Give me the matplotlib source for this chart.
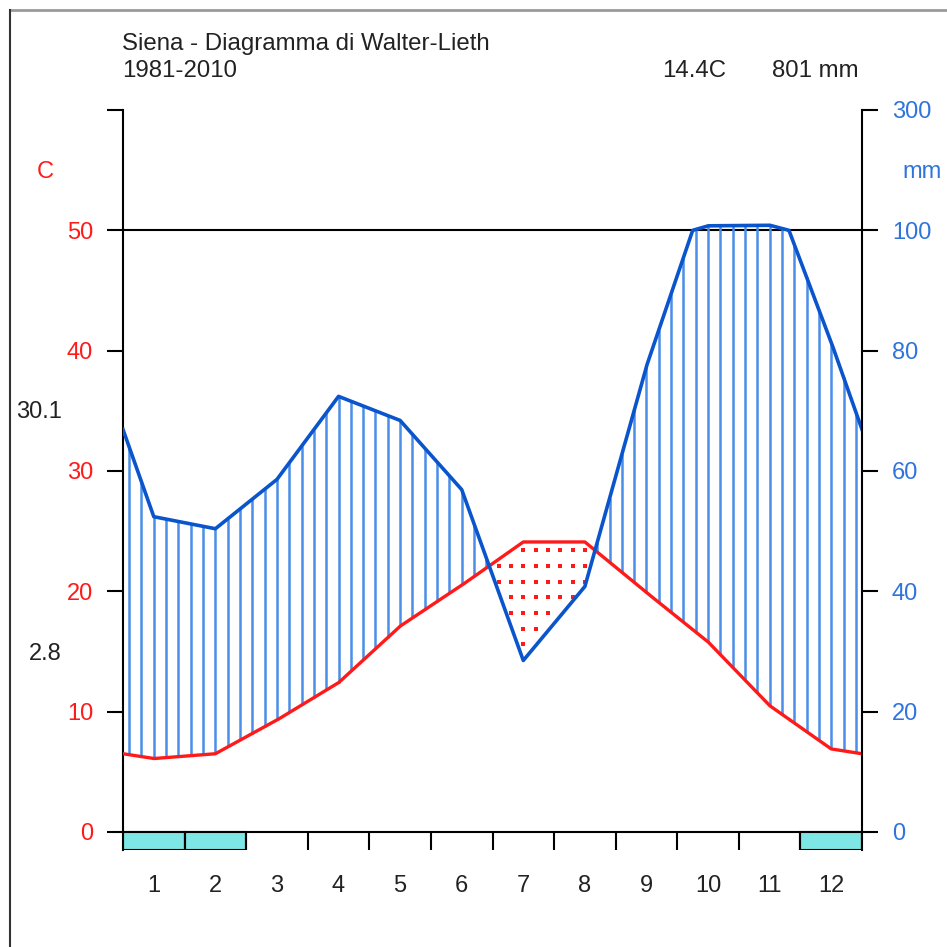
import numpy as np
import matplotlib
matplotlib.use("Agg")
import matplotlib.pyplot as plt
from matplotlib.lines import Line2D

plt.rcParams['font.family'] = ['Liberation Sans', 'DejaVu Sans']

# Siena 1981-2010, monthly means
months = list(range(1, 13))
temp = [6.1, 6.5, 9.3, 12.4, 17.1, 20.5, 24.1, 24.1, 19.9, 15.8, 10.5, 6.9]
precip = [52.4, 50.4, 58.6, 72.4, 68.4, 56.9, 28.5, 40.8, 77.4, 107.5, 108.5, 81.4]
frost_months = [1, 2, 12]
mm_ticks = [0, 20, 40, 60, 80, 100, 300]
c_ticks = [0, 10, 20, 30, 40, 50, 60]

RED = '#ff1a1a'
BLUE = '#0b55cc'
HATCH = '#4a8ee8'
BLUE_TXT = '#2f74dc'
TXT = '#222222'


def mm_to_c(p):
    # 2 mm per degree up to 100 mm, 20 mm per degree above
    p = np.asarray(p, dtype=float)
    return np.where(p <= 100, p / 2.0, 50 + (p - 100) / 20.0)


W = 947
fig = plt.figure(figsize=(9.47, 9.47), dpi=100)
ax = fig.add_axes([123 / W, (W - 850) / W, (862 - 123) / W, (850 - 110) / W])
ax.set_xlim(0, 12)
ax.set_ylim(-1.5, 60)

# month centres plus edge values (mean of Dec and Jan)
x_pts = np.concatenate([[0], np.arange(12) + 0.5, [12]])
t_edge = (temp[0] + temp[-1]) / 2
p_edge = (precip[0] + precip[-1]) / 2
t_pts = np.concatenate([[t_edge], temp, [t_edge]])
p_pts = np.concatenate([[p_edge], precip, [p_edge]])

xf = np.linspace(0, 12, 2401)
tf = np.interp(xf, x_pts, t_pts)
pf = mm_to_c(np.interp(xf, x_pts, p_pts))

# humid period: vertical hatching
xh = 0.1 + 0.2 * np.arange(60)
th = np.interp(xh, x_pts, t_pts)
ph = mm_to_c(np.interp(xh, x_pts, p_pts))
wet = ph > th
ax.vlines(xh[wet], th[wet], ph[wet], color=HATCH, lw=1.8, zorder=2)

# arid period: red dots
dx = 0.1 + 0.2 * np.arange(60)
dy = 23.4 - 1.3 * np.arange(18)
gx, gy = np.meshgrid(dx, dy)
gx, gy = gx.ravel(), gy.ravel()
gt = np.interp(gx, x_pts, t_pts)
gp = mm_to_c(np.interp(gx, x_pts, p_pts))
keep = (gy < gt - 0.3) & (gy > gp + 0.3)
ax.scatter(gx[keep], gy[keep], s=10, marker='s', color=RED, linewidths=0, zorder=2)

ax.axhline(0, color='black', lw=1.5, zorder=3)
ax.axhline(50, color='black', lw=1.5, zorder=1)
ax.plot(xf, tf, color=RED, lw=2.4, zorder=4)
ax.plot(xf, pf, color=BLUE, lw=2.6, zorder=5)

# frost months and month boundaries
ax.bar([m - 0.5 for m in frost_months], 1.5, bottom=-1.5, width=1,
       color='#7fe6e6', edgecolor='black', lw=1.5, zorder=3)
ax.vlines(range(13), -1.5, 0, color='black', lw=1.5, zorder=3)

for s in ['top', 'bottom', 'right']:
    ax.spines[s].set_visible(False)
ax.spines['left'].set_linewidth(1.5)

ax.set_yticks(c_ticks)
ax.set_yticklabels([str(v) for v in c_ticks[:-1]] + [''])
ax.tick_params(axis='y', direction='out', length=11.5, width=1.5, pad=10,
               labelcolor=RED, labelsize=17)
ax.set_xticks(np.arange(12) + 0.5)
ax.set_xticklabels([str(m) for m in months])
ax.tick_params(axis='x', length=0, pad=18, labelsize=17, labelcolor=TXT)

ax2 = ax.twinx()
ax2.set_ylim(-1.5, 60)
for s in ['top', 'bottom', 'left']:
    ax2.spines[s].set_visible(False)
ax2.spines['right'].set_linewidth(1.5)
ax2.set_yticks(mm_to_c(mm_ticks))
ax2.set_yticklabels([str(v) for v in mm_ticks])
ax2.tick_params(axis='y', direction='out', length=11.5, width=1.5, pad=10,
                labelcolor=BLUE_TXT, labelsize=17)

# texts
def fy(py):
    return (W - py) / W

fig.text(122 / W, fy(44), 'Siena - Diagramma di Walter-Lieth', fontsize=17.3,
         color=TXT, va='center', ha='left')
fig.text(122 / W, fy(71), '1981-2010', fontsize=17.3, color=TXT, va='center', ha='left')
fig.text(662 / W, fy(71), '14.4C', fontsize=17.3, color=TXT, va='center', ha='left')
fig.text(772 / W, fy(71), '801 mm', fontsize=17.3, color=TXT, va='center', ha='left')
fig.text(45 / W, fy(172), 'C', fontsize=17, color=RED, va='center', ha='center')
fig.text(922 / W, fy(172), 'mm', fontsize=17, color=BLUE_TXT, va='center', ha='center')
fig.text(62 / W, fy(412), '30.1', fontsize=17, color=TXT, va='center', ha='right')
fig.text(62 / W, fy(654), '2.8', fontsize=17, color=TXT, va='center', ha='right')

# frame around the picture (only top and left are visible)
fig.add_artist(Line2D([10 / W, 1], [fy(10), fy(10)], transform=fig.transFigure,
                      color='#9a9a9a', lw=2))
fig.add_artist(Line2D([10 / W, 10 / W], [0, fy(10)], transform=fig.transFigure,
                      color='#333333', lw=1.5))

fig.savefig('out.png', dpi=100, facecolor='white')
